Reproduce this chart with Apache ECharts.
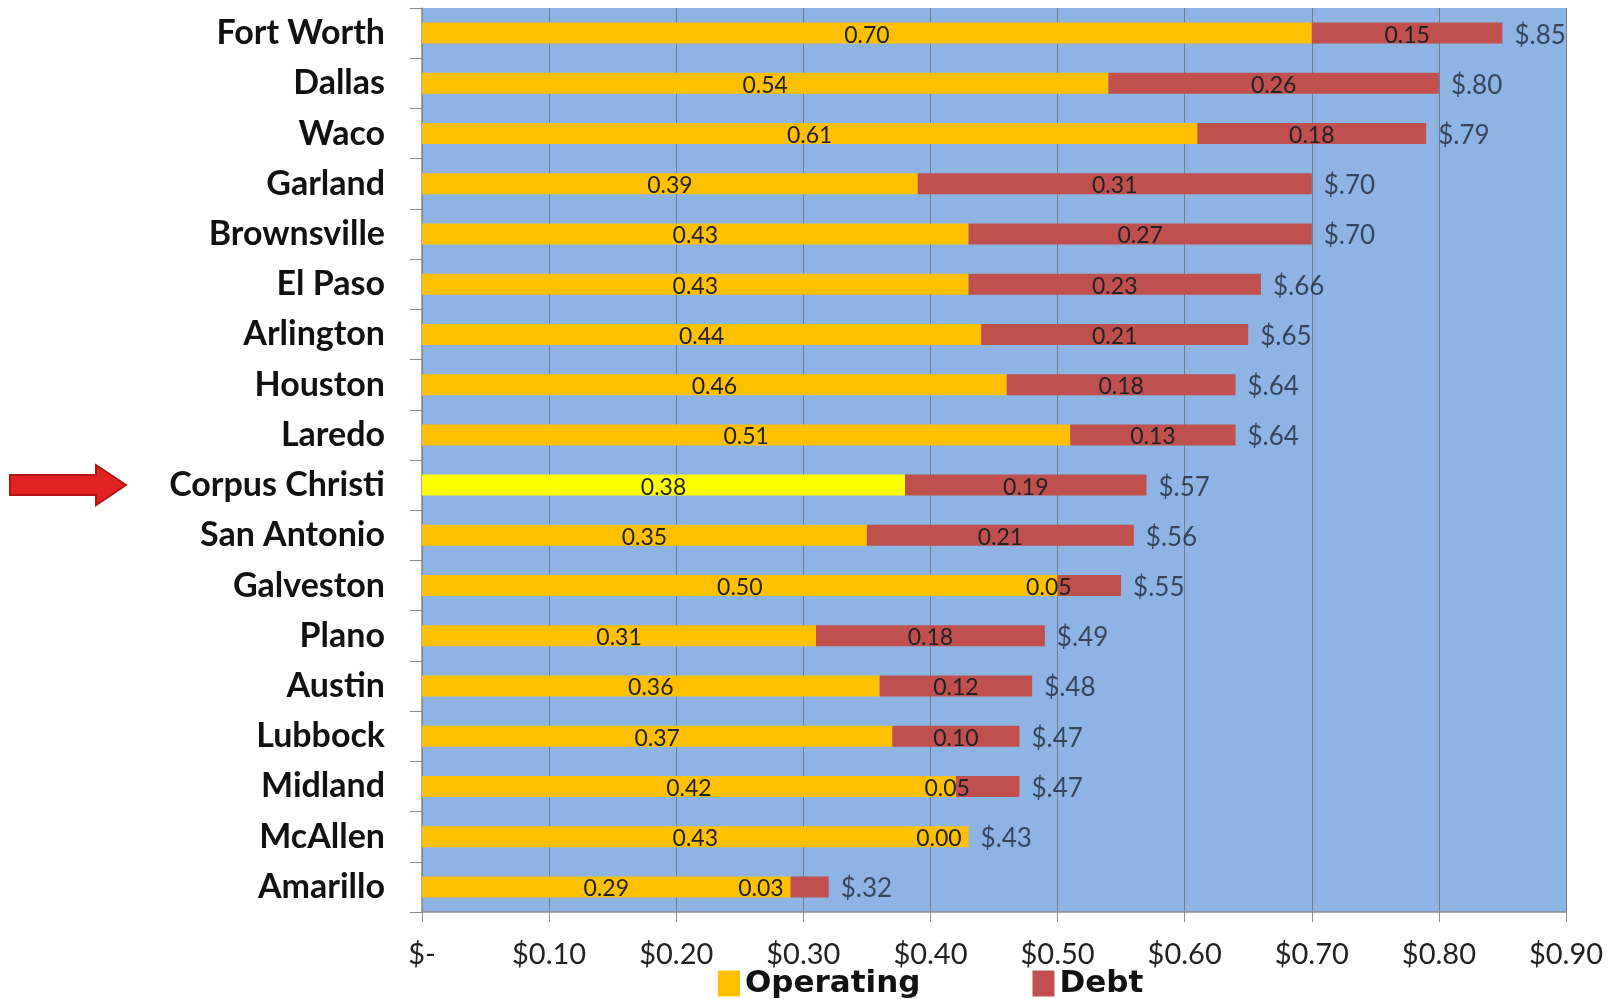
<!DOCTYPE html>
<html>
<head>
<meta charset="utf-8">
<script src="https://cdn.jsdelivr.net/npm/echarts@6/dist/echarts.min.js"></script>
<style>
  html, body { margin: 0; padding: 0; background: #fff; }
  #chart { width: 1617px; height: 999px; }
</style>
</head>
<body>
<div id="chart"></div>
<script>
const cities = ['Fort Worth', 'Dallas', 'Waco', 'Garland', 'Brownsville', 'El Paso', 'Arlington', 'Houston', 'Laredo',
    'Corpus Christi', 'San Antonio', 'Galveston', 'Plano', 'Austin', 'Lubbock', 'Midland', 'McAllen', 'Amarillo'];
const operating = [0.70, 0.54, 0.61, 0.39, 0.43, 0.43, 0.44, 0.46, 0.51, 0.38, 0.35, 0.50, 0.31, 0.36, 0.37, 0.42, 0.43, 0.29];
const debt = [0.15, 0.26, 0.18, 0.31, 0.27, 0.23, 0.21, 0.18, 0.13, 0.19, 0.21, 0.05, 0.18, 0.12, 0.10, 0.05, 0.00, 0.03];
const totals = [0.85, 0.80, 0.79, 0.70, 0.70, 0.66, 0.65, 0.64, 0.64, 0.57, 0.56, 0.55, 0.49, 0.48, 0.47, 0.47, 0.43, 0.32];
const highlight = 'Corpus Christi';

const chart = echarts.init(document.getElementById('chart'));

const valueLabel = {
    show: true,
    position: 'inside',
    offset: [0, 2],
    fontFamily: 'Lato',
    fontSize: 23,
    color: '#222',
    formatter: p => p.value.toFixed(2)
};

// small debt pieces get their label pushed to the left like in the original
function debtItem(v) {
    if (v > 0.05) return v;
    return {
        value: v,
        label: { position: 'left', distance: v >= 0.05 ? -14 : 7 }
    };
}

const option = {
    animation: false,
    grid: {
        left: 422, right: 51, top: 8, bottom: 87,
        show: true,
        backgroundColor: '#8DB4E2',
        borderWidth: 0
    },
    legend: {
        left: 713,
        bottom: -5,
        icon: 'rect',
        itemWidth: 22,
        itemHeight: 26,
        itemGap: 112,
        textStyle: { fontFamily: 'DejaVu Sans', fontWeight: 'bold', fontSize: 31, color: '#111' },
        data: ['Operating', 'Debt']
    },
    xAxis: {
        type: 'value',
        min: 0, max: 0.9, interval: 0.1,
        axisLine: { show: true, lineStyle: { color: '#8c8c8c', width: 1.5 } },
        axisTick: { show: true, length: 10, lineStyle: { color: '#8c8c8c' } },
        splitLine: { show: true, lineStyle: { color: '#6e7d8f', width: 1 } },
        axisLabel: {
            margin: 28,
            fontFamily: 'Lato',
            fontSize: 29,
            color: '#222',
            formatter: v => v === 0 ? '$-' : '$' + v.toFixed(2)
        }
    },
    yAxis: {
        type: 'category',
        data: cities,
        inverse: true,
        axisLine: { show: true, lineStyle: { color: '#8c8c8c', width: 1.5 } },
        axisTick: { show: true, length: 12, lineStyle: { color: '#8c8c8c' } },
        axisLabel: {
            margin: 37,
            fontFamily: 'Lato',
            fontWeight: 'bold',
            fontSize: 34,
            color: '#111'
        }
    },
    series: [
        {
            name: 'Operating',
            type: 'bar',
            stack: 'cost',
            barWidth: 21,
            itemStyle: { color: '#FFC000' },
            label: valueLabel,
            data: operating.map((v, i) => cities[i] === highlight
                ? { value: v, itemStyle: { color: '#FFFF00' } } : v)
        },
        {
            name: 'Debt',
            type: 'bar',
            stack: 'cost',
            barWidth: 21,
            itemStyle: { color: '#C0504D' },
            label: valueLabel,
            data: debt.map(debtItem)
        },
        {
            name: 'Total',
            type: 'scatter',
            symbolSize: 0,
            silent: true,
            label: {
                show: true,
                position: 'right',
                distance: 12,
                offset: [0, 2],
                fontFamily: 'Lato',
                fontSize: 26,
                color: '#1f2b3a',
                formatter: p => '$' + p.value[0].toFixed(2).slice(1)
            },
            data: totals.map((v, i) => [v, cities[i]])
        }
    ]
};

chart.setOption(option);

// red arrow pointing at the highlighted city
const ay = chart.convertToPixel({ yAxisIndex: 0 }, highlight);
chart.setOption({
    graphic: [{
        type: 'polygon',
        shape: {
            points: [
                [10, ay - 10], [96, ay - 10], [96, ay - 20],
                [126, ay], [96, ay + 20], [96, ay + 10], [10, ay + 10]
            ]
        },
        style: { fill: '#E32222', stroke: '#B51515', lineWidth: 2 }
    }]
});

window.addEventListener('resize', () => chart.resize());
</script>
</body>
</html>
